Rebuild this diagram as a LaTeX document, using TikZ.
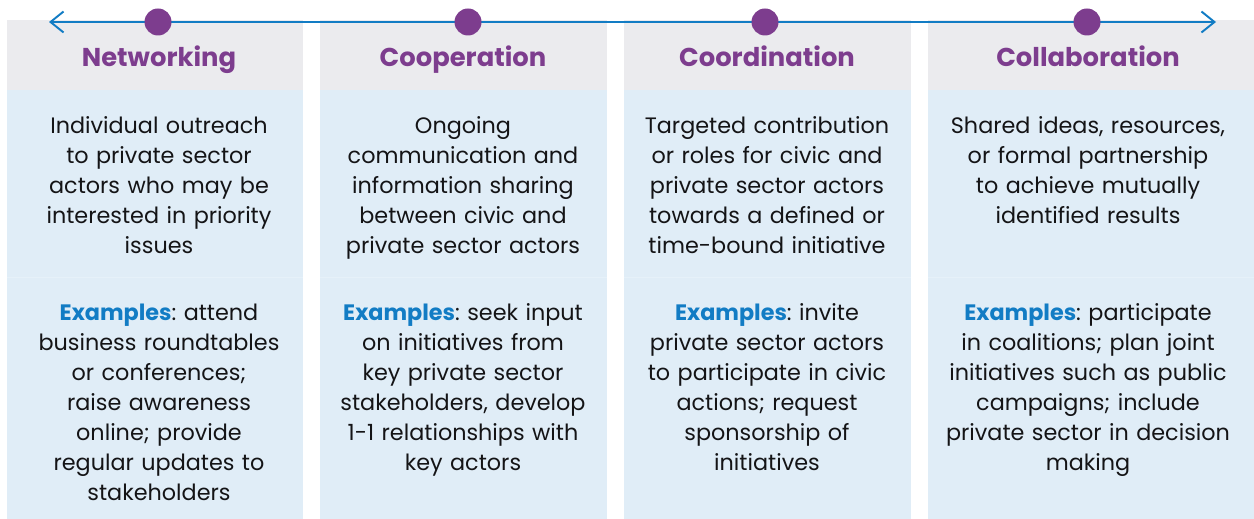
\documentclass[tikz,border=0pt]{standalone}
\usepackage{fontspec}
\setmainfont{Poppins}
\usepackage{xcolor}
\definecolor{plum}{RGB}{125, 61, 142}
\definecolor{linkblue}{RGB}{18, 124, 196}
\definecolor{inkblack}{RGB}{20, 20, 22}
\definecolor{headgray}{RGB}{235, 235, 238}
\definecolor{paleblue}{RGB}{224, 237, 247}
\usepackage{tikz}
\usetikzlibrary{arrows.meta}
\frenchspacing

\begin{document}
\begin{tikzpicture}[x=0.02cm,y=-0.02cm,
  stage/.style={font=\fontsize{14.7}{18}\selectfont\bfseries,text=plum,anchor=base},
  blurb/.style={font=\fontsize{12.7}{17.07}\selectfont,text=inkblack,
    text width=7cm,align=center,anchor=base,inner sep=0pt},
  dot/.style={circle,fill=plum,minimum size=0.54cm,inner sep=0pt}]
  \useasboundingbox (0,0) rectangle (1254,519);

  % four column panels
  \foreach \l/\r in {7/303,320/607,624/911,928/1254}{
    \fill[headgray] (\l,20) rectangle (\r,90);
    \fill[paleblue] (\l,90) rectangle (\r,519);
    \draw[white!20!paleblue,line width=0.5pt] (\l,277) -- (\r,277);
  }

  % continuum arrow with stage dots
  \coordinate (west) at (49,22);
  \coordinate (east) at (1216,22);
  \draw[linkblue,line width=1.1pt,
    {Straight Barb[length=0.26cm,width=0.42cm]}-{Straight Barb[length=0.26cm,width=0.42cm]}]
    (west) -- (east);
  \node[dot] (netDot) at (158,22) {};
  \node[dot] (coopDot) at (468,22) {};
  \node[dot] (coordDot) at (765,22) {};
  \node[dot] (collabDot) at (1087,22) {};

  % stage names
  \node[stage] (netHead) at (159,67) {Networking};
  \node[stage] (coopHead) at (463,67) {Cooperation};
  \node[stage] (coordHead) at (767,67) {Coordination};
  \node[stage] (collabHead) at (1088,67) {Collaboration};

  % descriptions
  \node[blurb] (netText) at (159,134) {Individual outreach\\ to private sector\\
    actors who may be\\ interested in priority\\ issues};
  \node[blurb] (coopText) at (463,134) {Ongoing\\ communication and\\
    information sharing\\ between civic and\\ private sector actors};
  \node[blurb] (coordText) at (767,134) {Targeted contribution\\ or roles for civic and\\
    private sector actors\\ towards a defined or\\ time-bound initiative};
  \node[blurb] (collabText) at (1088,134) {Shared ideas, resources,\\ or formal partnership\\
    to achieve mutually\\ identified results};

  % examples
  \node[blurb] (netEx) at (159,321) {\textcolor{linkblue}{\bfseries Examples}: attend\\
    business roundtables\\ or conferences;\\ raise awareness\\ online; provide\\
    regular updates to\\ stakeholders};
  \node[blurb] (coopEx) at (463,321) {\textcolor{linkblue}{\bfseries Examples}: seek input\\
    on initiatives from\\ key private sector\\ stakeholders, develop\\
    1-1 relationships with\\ key actors};
  \node[blurb] (coordEx) at (767,321) {\textcolor{linkblue}{\bfseries Examples}: invite\\
    private sector actors\\ to participate in civic\\ actions; request\\
    sponsorship of\\ initiatives};
  \node[blurb] (collabEx) at (1088,321) {\textcolor{linkblue}{\bfseries Examples}: participate\\
    in coalitions; plan joint\\ initiatives such as public\\ campaigns; include\\
    private sector in decision\\ making};
\end{tikzpicture}
\end{document}
